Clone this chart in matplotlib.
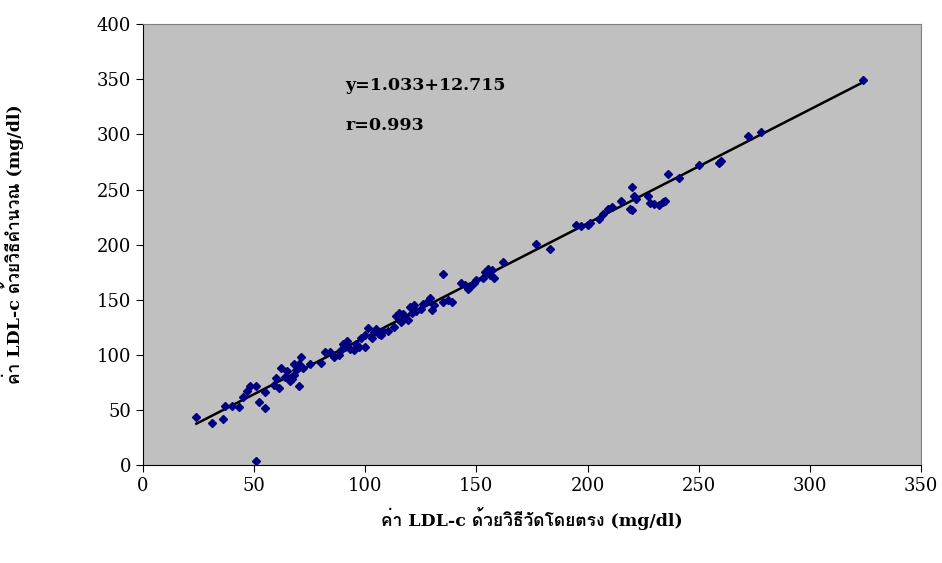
import matplotlib as mpl
mpl.use('Agg')
import matplotlib.pyplot as plt
import numpy as np
from matplotlib import font_manager

# ข้อมูล (อ่านจากกราฟ)
direct_ldl = [24, 31, 36, 37, 40, 43, 45, 47, 48, 51, 52, 51, 55, 55, 59, 60, 61, 62,
              64, 65, 66, 67, 68, 69, 70, 70, 71, 72, 68, 75, 80, 82, 84, 86, 88, 89,
              90, 91, 92, 93, 95, 96, 97, 98, 100, 100, 101, 103, 104, 105, 106, 107,
              108, 110, 113, 114, 115, 116, 117, 118, 119, 120, 121, 122, 123, 125,
              126, 128, 129, 130, 131, 135, 135, 137, 139, 143, 145, 146, 147, 149,
              150, 153, 154, 155, 156, 157, 158, 162, 177, 183, 195, 197, 200, 201,
              205, 207, 209, 211, 215, 219, 220, 220, 221, 222, 227, 228, 230, 232,
              234, 235, 236, 241, 250, 259, 260, 272, 278, 324]
calc_ldl = [44, 38, 42, 54, 54, 53, 62, 67, 72, 72, 57, 4, 52, 66, 73, 79, 70, 88,
            80, 85, 76, 78, 82, 86, 72, 92, 98, 88, 92, 92, 93, 103, 103, 98, 100, 104,
            110, 107, 113, 105, 104, 110, 107, 115, 118, 107, 124, 115, 121, 123, 119, 118,
            122, 122, 125, 135, 138, 130, 137, 134, 132, 143, 138, 145, 140, 142,
            146, 149, 152, 141, 145, 173, 148, 150, 148, 165, 163, 160, 162, 165,
            168, 170, 175, 178, 172, 177, 170, 184, 201, 196, 218, 217, 218, 220,
            223, 228, 232, 234, 240, 232, 252, 231, 244, 241, 244, 238, 237, 236,
            239, 240, 264, 260, 272, 274, 276, 299, 302, 349]

slope = 1.033
intercept = 12.715
r_val = 0.993

# ฟอนต์ไทย
thai = [f.name for f in font_manager.fontManager.ttflist
        if 'thai' in f.name.lower() or 'garuda' in f.name.lower() or 'loma' in f.name.lower()]
fam = ['DejaVu Serif'] + thai + ['DejaVu Sans']
plt.rcParams['font.family'] = fam

fig = plt.figure(figsize=(9.42, 5.63), dpi=100)
ax = fig.add_axes([0.1518, 0.174, 0.8259, 0.783])
ax.set_facecolor('#C0C0C0')

ax.plot(direct_ldl, calc_ldl, 'D', color='#000080', markersize=4.5, zorder=3)
xl = np.array([min(direct_ldl), max(direct_ldl)])
ax.plot(xl, slope * xl + intercept, color='black', lw=1.8, zorder=2)

ax.set_xlim(0, 350)
ax.set_ylim(0, 400)
ax.set_xticks(range(0, 351, 50))
ax.set_yticks(range(0, 401, 50))
ax.tick_params(direction='out', length=5, labelsize=13)
for s in ['top', 'right']:
    ax.spines[s].set_color('#808080')

ax.text(91, 344, 'y=%.3f+%.3f' % (slope, intercept), fontsize=12.5, fontweight='bold', va='center')
ax.text(91, 308, 'r=%.3f' % r_val, fontsize=12.5, fontweight='bold', va='center')

ax.set_xlabel('ค่า LDL-c ด้วยวิธีวัดโดยตรง (mg/dl)', fontsize=12.5, fontweight='bold', labelpad=9)
ax.set_ylabel('ค่า LDL-c ด้วยวิธีคำนวณ (mg/dl)', fontsize=12.5, fontweight='bold', labelpad=52)

fig.savefig('out.png', dpi=100)
